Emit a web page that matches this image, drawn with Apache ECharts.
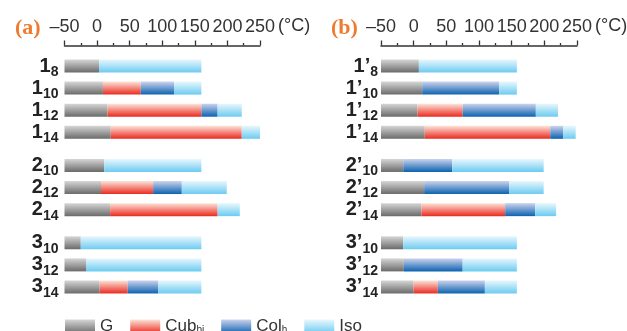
<!DOCTYPE html>
<html><head><meta charset="utf-8">
<script src="https://cdn.jsdelivr.net/npm/echarts@6.0.0/dist/echarts.min.js"></script>
<style>html,body{margin:0;padding:0;background:#fff}#c{width:627px;height:331px}</style>
</head><body><div id="c"></div><script>
// ---- data ----
const phases = ['G', 'Cub', 'Col', 'Iso'];
const startTemp = -50;
const xTicks = { min: -50, max: 250, interval: 50 };
const unitLabel = '(°C)';

const mainA = ['1', '1', '1', '1', '2', '2', '2', '3', '3', '3'];
const subA  = ['8', '10', '12', '14', '10', '12', '14', '10', '12', '14'];
const gEndA   = [3, 9, 16, 21, 11, 6, 20, -25, -17, 4];
const cubEndA = [null, 67, 160, 222, null, 86, 185, null, null, 47];
const colEndA = [null, 118, 185, null, null, 130, null, null, null, 94];
const isoEndA = [160, 160, 222, 250, 160, 199, 219, 160, 160, 160];

const mainB = ['1’', '1’', '1’', '1’', '2’', '2’', '2’', '3’', '3’', '3’'];
const subB  = ['8', '10', '12', '14', '10', '12', '14', '10', '12', '14'];
const gEndB   = [8, 13, 6, 17, -16, 16, 12, -16, -15, 0];
const cubEndB = [null, null, 75, 209, null, null, 140, null, null, 37];
const colEndB = [null, 131, 187, 229, 59, 146, 186, null, 75, 109];
const isoEndB = [158, 158, 221, 248, 199, 199, 218, 158, 158, 158];

// ---- styles ----
const G = echarts.graphic.LinearGradient;
const grads = {
  G:   new G(0, 0, 0, 1, [{offset: 0, color: '#d6d6d6'}, {offset: 1, color: '#6a6a6a'}]),
  Cub: new G(0, 0, 0, 1, [{offset: 0, color: '#fde4d8'}, {offset: 1, color: '#ea2a20'}]),
  Col: new G(0, 0, 0, 1, [{offset: 0, color: '#ccd3ee'}, {offset: 1, color: '#0c62b0'}]),
  Iso: new G(0, 0, 0, 1, [{offset: 0, color: '#e8f7fd'}, {offset: 1, color: '#6ccbf1'}])
};
const BAR_H = 13;
const FONT = 'Liberation Sans, Arial, sans-serif';

function buildCats(main, sub) {
  const cats = [], slots = [];
  for (let i = 0; i < main.length; i++) {
    if (i > 0) {
      cats.push('');
      if (main[i] !== main[i - 1]) cats.push('');
    }
    slots.push(cats.length);
    cats.push(main[i] + '|' + sub[i]);
  }
  return {cats, slots};
}

function buildSegs(slots, ends) {
  const out = {G: [], Cub: [], Col: [], Iso: []};
  for (let i = 0; i < slots.length; i++) {
    let cur = startTemp;
    phases.forEach((p, k) => {
      const e = ends[k][i];
      if (e != null) { out[p].push([cur, e, slots[i]]); cur = e; }
    });
  }
  return out;
}

const A = buildCats(mainA, subA);
const B = buildCats(mainB, subB);
const segA = buildSegs(A.slots, [gEndA, cubEndA, colEndA, isoEndA]);
const segB = buildSegs(B.slots, [gEndB, cubEndB, colEndB, isoEndB]);

function xAxisCfg(gi) {
  return {
    type: 'value', gridIndex: gi, position: 'top', offset: 15,
    min: xTicks.min, max: xTicks.max, interval: xTicks.interval,
    axisLine: {show: true, lineStyle: {color: '#333', width: 1.5}},
    axisTick: {show: true, length: 5, inside: false, lineStyle: {color: '#333', width: 1.3}},
    minorTick: {show: true, splitNumber: 2, length: 2.5, lineStyle: {color: '#333', width: 1.3}},
    splitLine: {show: false},
    axisLabel: {
      margin: 9, fontSize: 18, color: '#333', fontFamily: FONT,
      formatter: v => v < 0 ? '–' + (-v) : String(v)
    }
  };
}

function yAxisCfg(gi, cats, margin) {
  return {
    type: 'category', gridIndex: gi, inverse: true, data: cats,
    axisLine: {show: false}, axisTick: {show: false}, splitLine: {show: false},
    axisLabel: {
      interval: 0, margin: margin,
      formatter: v => {
        if (!v) return '';
        const [m, s] = v.split('|');
        return '{m|' + m + '}{s|' + s + '}';
      },
      rich: {
        m: {fontSize: 20, fontWeight: 'bold', color: '#222', fontFamily: FONT, verticalAlign: 'bottom'},
        s: {fontSize: 14, fontWeight: 'bold', color: '#222', fontFamily: FONT, verticalAlign: 'bottom', padding: [0, 0, -3, 0]}
      }
    }
  };
}

function mkSeries(gi, segs) {
  return phases.map(p => ({
    type: 'custom', name: p, xAxisIndex: gi, yAxisIndex: gi,
    itemStyle: {color: grads[p]},
    encode: {x: [0, 1], y: 2},
    data: segs[p],
    renderItem: (params, api) => {
      const a = api.coord([api.value(0), api.value(2)]);
      const b = api.coord([api.value(1), api.value(2)]);
      return {type: 'rect', shape: {x: a[0], y: a[1] - BAR_H / 2, width: b[0] - a[0], height: BAR_H},
              style: {fill: grads[p]}};
    }
  }));
}

const legendNames = {G: 'G', Cub: 'Cub{s|bi}', Col: 'Col{s|h}', Iso: 'Iso'};
const titleStyle = {fontSize: 22, fontWeight: 'bold', color: '#ee7b2f', fontFamily: 'Liberation Serif, Times New Roman, serif'};
const unitStyle = {fontSize: 18, fontWeight: 'normal', color: '#333', fontFamily: FONT};

const chart = echarts.init(document.getElementById('c'));
chart.setOption({
  animation: false,
  backgroundColor: '#fff',
  title: [
    {text: '(a)', left: 10, top: 12, textStyle: titleStyle},
    {text: '(b)', left: 326, top: 12, textStyle: titleStyle},
    {text: unitLabel, left: 278, top: 17, padding: 0, textStyle: unitStyle},
    {text: unitLabel, left: 595, top: 17, padding: 0, textStyle: unitStyle}
  ],
  grid: [
    {left: 64.5, width: 195.5, top: 60.5, height: 232},
    {left: 381, width: 196, top: 60.5, height: 232}
  ],
  xAxis: [xAxisCfg(0), xAxisCfg(1)],
  yAxis: [yAxisCfg(0, A.cats, 6), yAxisCfg(1, B.cats, 3)],
  legend: {
    left: 65, top: 318, padding: 0, itemGap: 17, itemWidth: 30, itemHeight: 14,
    icon: 'rect',
    data: phases,
    formatter: n => legendNames[n],
    textStyle: {fontSize: 17, color: '#333', fontFamily: FONT,
      rich: {s: {fontSize: 10, color: '#333', fontFamily: FONT, padding: [8, 0, 0, 0]}}}
  },
  series: [...mkSeries(0, segA), ...mkSeries(1, segB)]
});
</script></body></html>
